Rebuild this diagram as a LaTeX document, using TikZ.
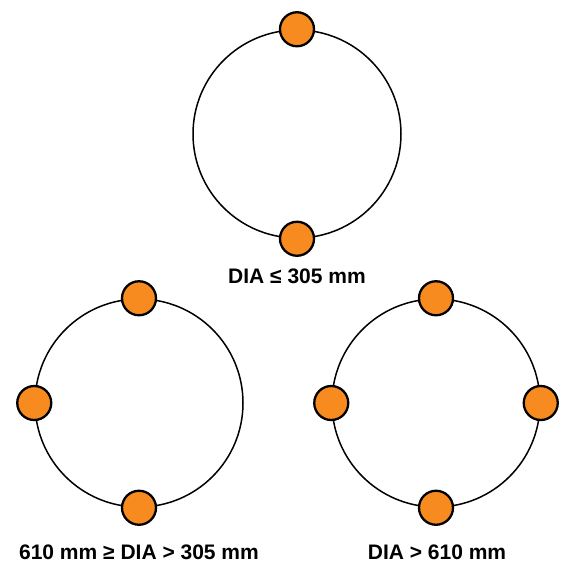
\documentclass[tikz,border=0pt]{standalone}
\usepackage{fontspec}
\setmainfont{Liberation Sans}
\usepackage{xcolor}
\usetikzlibrary{positioning}
\definecolor{flangeorange}{HTML}{F78B1F}
\tikzset{
  pipe/.style={draw=black, line width=1.5pt, circle, minimum size=208pt, inner sep=0pt},
  bolt/.style={draw=black, line width=2.3pt, circle, fill=flangeorange, minimum size=34pt, inner sep=0pt},
  dialabel/.style={font=\fontsize{21}{24}\selectfont\bfseries, inner sep=0pt}
}
\begin{document}
\begin{tikzpicture}[x=1pt, y=-1pt]
  \useasboundingbox (0,0) rectangle (570,563);
  % small pipe: two bolts
  \node[pipe] (ringA) at (297,134) {};
  \foreach \a/\n in {90/t,270/b}
    \node[bolt] (boltA\n) at (ringA.\a) {};
  \node[dialabel] (labA) at (297,276) {DIA ≤ 305 mm};
  % medium pipe: three bolts
  \node[pipe] (ringB) at (139,403) {};
  \foreach \a/\n in {90/t,180/l,270/b}
    \node[bolt] (boltB\n) at (ringB.\a) {};
  \node[dialabel] (labB) at (139,552) {610 mm ≥ DIA > 305 mm};
  % large pipe: four bolts
  \node[pipe] (ringC) at (436,403) {};
  \foreach \a/\n in {90/t,180/l,270/b,0/r}
    \node[bolt] (boltC\n) at (ringC.\a) {};
  \node[dialabel] (labC) at (437,552) {DIA > 610 mm};
\end{tikzpicture}
\end{document}
